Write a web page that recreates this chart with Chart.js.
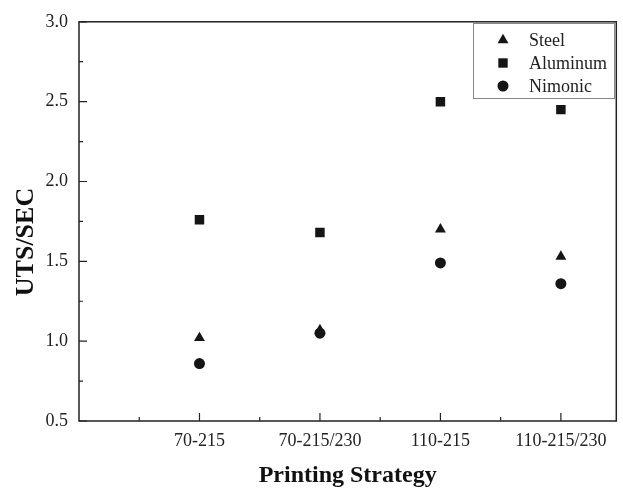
<!DOCTYPE html>
<html>
<head>
<meta charset="utf-8">
<script src="https://cdn.jsdelivr.net/npm/chart.js@4"></script>
<style>
html,body{margin:0;padding:0;background:#fff;}
#wrap{width:623px;height:488px;}
</style>
</head>
<body>
<div id="wrap"><canvas id="c" width="623" height="488"></canvas></div>
<script>
const categories = ['70-215', '70-215/230', '110-215', '110-215/230'];
const steel    = [1.02, 1.07, 1.70, 1.53];
const aluminum = [1.76, 1.68, 2.50, 2.45];
const nimonic  = [0.86, 1.05, 1.49, 1.36];
const yTickValues = [0.5, 1.0, 1.5, 2.0, 2.5, 3.0];
const seriesNames = ['Steel', 'Aluminum', 'Nimonic'];

const SERIF = '"Liberation Serif", "Times New Roman", serif';
const INK = '#151515';

function pts(arr) { return categories.map((c, i) => ({x: i + 1, y: arr[i]})); }

const frameAndTicks = {
  id: 'frameAndTicks',
  afterDatasetsDraw(chart) {
    const ctx = chart.ctx, a = chart.chartArea;
    const xs = chart.scales.x, ys = chart.scales.y;
    ctx.save();
    ctx.strokeStyle = '#222';
    ctx.lineWidth = 1.5;
    ctx.strokeRect(a.left, a.top, a.right - a.left, a.bottom - a.top);
    ctx.lineWidth = 1.2;
    ctx.beginPath();
    // y ticks (inward)
    for (let i = 0; i < yTickValues.length; i++) {
      const py = ys.getPixelForValue(yTickValues[i]);
      ctx.moveTo(a.left, py); ctx.lineTo(a.left + 8, py);
      if (i < yTickValues.length - 1) {
        const m = ys.getPixelForValue((yTickValues[i] + yTickValues[i + 1]) / 2);
        ctx.moveTo(a.left, m); ctx.lineTo(a.left + 4, m);
      }
    }
    // x ticks (inward)
    for (let i = 0; i < categories.length; i++) {
      const px = xs.getPixelForValue(i + 1);
      ctx.moveTo(px, a.bottom); ctx.lineTo(px, a.bottom - 8);
      const m = xs.getPixelForValue(i + 0.5);
      ctx.moveTo(m, a.bottom); ctx.lineTo(m, a.bottom - 4);
    }
    ctx.stroke();

    // Axis titles
    ctx.fillStyle = '#111';
    ctx.font = 'bold 24px ' + SERIF;
    ctx.textAlign = 'center';
    ctx.textBaseline = 'alphabetic';
    ctx.fillText('Printing Strategy', (a.left + a.right) / 2, 482);
    ctx.save();
    ctx.translate(33, 242);
    ctx.rotate(-Math.PI / 2);
    ctx.font = 'bold 26px ' + SERIF;
    ctx.fillText('UTS/SEC', 0, 0);
    ctx.restore();

    // Legend box
    ctx.strokeStyle = '#888';
    ctx.lineWidth = 1;
    ctx.strokeRect(473.5, 23.5, 141, 75);
    const rows = [40, 63, 86];
    ctx.font = '18px ' + SERIF;
    ctx.textAlign = 'left';
    ctx.textBaseline = 'middle';
    chart.data.datasets.forEach((ds, i) => {
      const cx = 503, cy = rows[i];
      ctx.fillStyle = INK;
      ctx.beginPath();
      if (ds.pointStyle === 'triangle') {
        const r = 6.3;
        ctx.moveTo(cx, cy - r);
        ctx.lineTo(cx + r * Math.sin(2 * Math.PI / 3), cy - r * Math.cos(2 * Math.PI / 3));
        ctx.lineTo(cx + r * Math.sin(4 * Math.PI / 3), cy - r * Math.cos(4 * Math.PI / 3));
        ctx.closePath();
      } else if (ds.pointStyle === 'rect') {
        ctx.rect(cx - 4.7, cy - 4.7, 9.4, 9.4);
      } else {
        ctx.arc(cx, cy, 5.5, 0, Math.PI * 2);
      }
      ctx.fill();
      ctx.fillStyle = '#222';
      ctx.fillText(ds.label, 529, cy + 1);
    });
    ctx.restore();
  }
};

new Chart(document.getElementById('c'), {
  type: 'scatter',
  data: {
    datasets: [
      {label: seriesNames[0], data: pts(steel), pointStyle: 'triangle', pointRadius: 6.3, backgroundColor: INK, borderColor: INK, borderWidth: 0, order: 2},
      {label: seriesNames[1], data: pts(aluminum), pointStyle: 'rect', pointRadius: 6.7, backgroundColor: INK, borderColor: INK, borderWidth: 0, order: 1},
      {label: seriesNames[2], data: pts(nimonic), pointStyle: 'circle', pointRadius: 5.5, backgroundColor: INK, borderColor: INK, borderWidth: 0, order: 0}
    ]
  },
  options: {
    responsive: false,
    animation: false,
    devicePixelRatio: 1,
    layout: {padding: {top: 19, right: 4, left: 0, bottom: 0}},
    plugins: {legend: {display: false}, tooltip: {enabled: false}},
    scales: {
      x: {
        type: 'linear', min: 0, max: 4.46,
        grid: {display: false, drawTicks: false},
        border: {display: false},
        afterBuildTicks(s) { s.ticks = categories.map((c, i) => ({value: i + 1})); },
        afterFit(s) { s.height = 67; },
        ticks: {
          padding: 9,
          color: '#222',
          font: {family: SERIF, size: 18},
          maxRotation: 0, autoSkip: false,
          callback(v) { const i = Math.round(v) - 1; return categories[i] !== undefined ? categories[i] : ''; }
        }
      },
      y: {
        type: 'linear', min: 0.5, max: 3.0,
        grid: {display: false, drawTicks: false},
        border: {display: false},
        afterBuildTicks(s) { s.ticks = yTickValues.map(v => ({value: v})); },
        afterFit(s) { s.width = 79; },
        ticks: {
          padding: 11,
          color: '#222',
          font: {family: SERIF, size: 18},
          callback(v) { return Number(v).toFixed(1); }
        }
      }
    }
  },
  plugins: [frameAndTicks]
});
</script>
</body>
</html>
